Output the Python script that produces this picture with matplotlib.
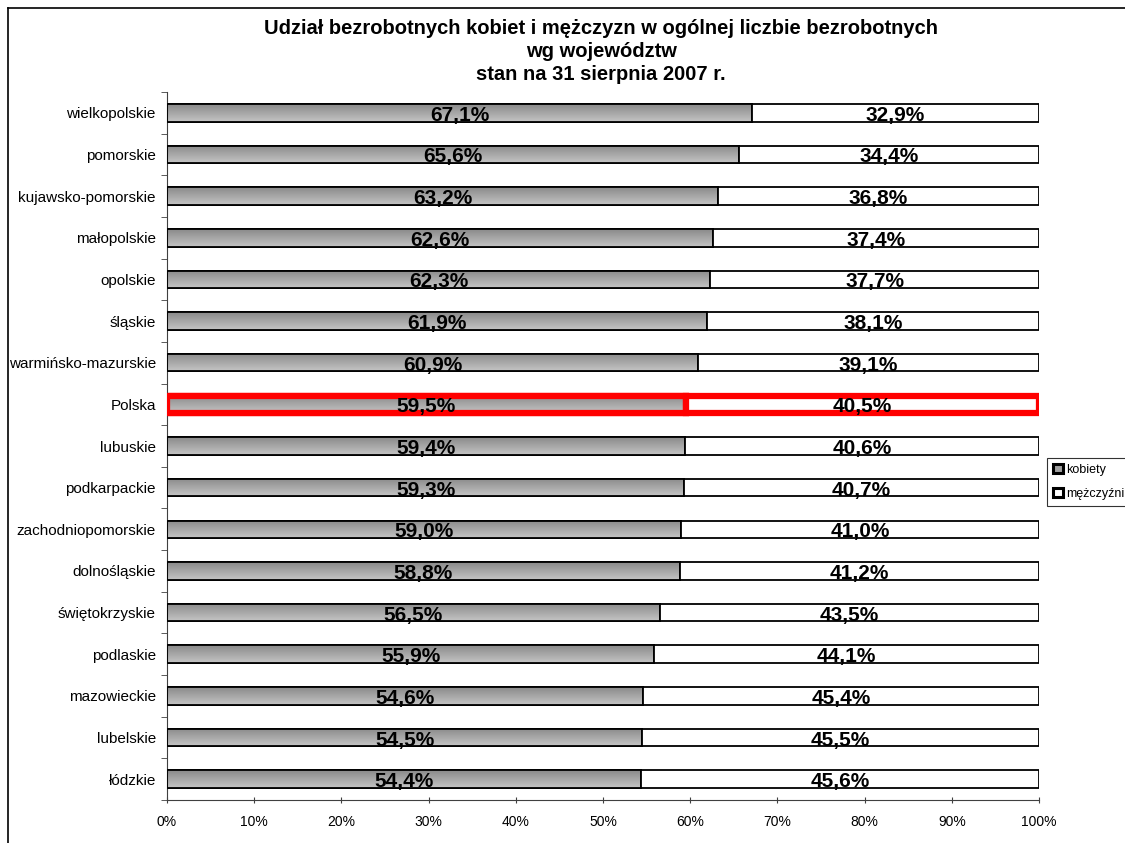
import numpy as np
import matplotlib
matplotlib.use("Agg")
import matplotlib.pyplot as plt
from matplotlib.patches import Rectangle, Patch
from matplotlib.lines import Line2D
from matplotlib.colors import LinearSegmentedColormap

plt.rcParams['font.family'] = ['Liberation Sans', 'DejaVu Sans']

regions = ["wielkopolskie", "pomorskie", "kujawsko-pomorskie", "małopolskie",
           "opolskie", "śląskie", "warmińsko-mazurskie", "Polska", "lubuskie",
           "podkarpackie", "zachodniopomorskie", "dolnośląskie", "świętokrzyskie",
           "podlaskie", "mazowieckie", "lubelskie", "łódzkie"]
kobiety = [67.1, 65.6, 63.2, 62.6, 62.3, 61.9, 60.9, 59.5, 59.4, 59.3, 59.0,
           58.8, 56.5, 55.9, 54.6, 54.5, 54.4]
mezczyzni = [32.9, 34.4, 36.8, 37.4, 37.7, 38.1, 39.1, 40.5, 40.6, 40.7, 41.0,
             41.2, 43.5, 44.1, 45.4, 45.5, 45.6]
xticks = [0, 10, 20, 30, 40, 50, 60, 70, 80, 90, 100]
title = ("Udział bezrobotnych kobiet i mężczyzn w ogólnej liczbie bezrobotnych\n"
         "wg województw\nstan na 31 sierpnia 2007 r.")

fig = plt.figure(figsize=(11.25, 8.43), dpi=100)
ax = fig.add_axes([167/1125, 1-800/843, (1039-167)/1125, (800-92)/843])

n = len(regions)
y = np.arange(n)[::-1]
h = 0.42

grad = np.linspace(0, 1, 64).reshape(-1, 1)
cmap = LinearSegmentedColormap.from_list("g", ["#c4c4c4", "#8a8a8a"])

for i in range(n):
    yi = y[i]
    special = regions[i] == "Polska"
    ec = "red" if special else "black"
    lw = 4.5 if special else 1.3
    bk = ax.barh(yi, kobiety[i], height=h, color="#a8a8a8", edgecolor=ec,
                 linewidth=lw, zorder=2)[0]
    im = ax.imshow(grad, extent=(0, kobiety[i], yi - h/2, yi + h/2), cmap=cmap,
                   aspect='auto', zorder=2.5, origin='lower')
    im.set_clip_path(bk)
    ax.add_patch(Rectangle((0, yi - h/2), kobiety[i], h, fill=False,
                           edgecolor=ec, linewidth=lw, zorder=3))
    ax.barh(yi, mezczyzni[i], left=kobiety[i], height=h, color="white",
            edgecolor=ec, linewidth=lw, zorder=3)
    ax.text(kobiety[i]/2, yi - 0.06, f"{kobiety[i]:.1f}%".replace('.', ','),
            ha='center', va='center', fontsize=15, fontweight='bold', zorder=5)
    ax.text(kobiety[i] + mezczyzni[i]/2, yi - 0.06,
            f"{mezczyzni[i]:.1f}%".replace('.', ','),
            ha='center', va='center', fontsize=15, fontweight='bold', zorder=5)

ax.set_xlim(0, 100)
ax.set_ylim(-0.5, n - 0.5)
ax.set_xticks(xticks)
ax.set_xticklabels([f"{v}%" for v in xticks], fontsize=10)
ax.set_yticks(y)
ax.set_yticklabels(regions, fontsize=11)
ax.set_yticks(np.arange(-0.5, n, 1), minor=True)
ax.tick_params(axis='y', which='major', length=0, pad=8)
ax.tick_params(axis='y', which='minor', length=4, direction='out', color='#404040')
ax.tick_params(axis='x', which='major', length=5, direction='inout', color='#404040', pad=8)
for s in ['top', 'right']:
    ax.spines[s].set_visible(False)
ax.spines['left'].set_color('#404040')
ax.spines['bottom'].set_color('#404040')

fig.text(601/1125, 1-19/843, title, ha='center', va='top', fontsize=14.5,
         fontweight='bold', linespacing=1.25)

# chart area border
fig.add_artist(Line2D([8/1125, 8/1125], [0, 1-8/843], color='black', lw=1.2,
                      transform=fig.transFigure))
fig.add_artist(Line2D([8/1125, 1], [1-8/843, 1-8/843], color='black', lw=1.2,
                      transform=fig.transFigure))

handles = [Patch(facecolor='#a0a0a0', edgecolor='black', linewidth=2.2),
           Patch(facecolor='white', edgecolor='black', linewidth=2.2)]
leg = fig.legend(handles, ["kobiety", "mężczyźni"], loc='upper left',
                 bbox_to_anchor=(1047/1125, 1-458/843), fontsize=9,
                 frameon=True, fancybox=False, handlelength=0.75, handleheight=0.75,
                 handletextpad=0.3, borderpad=0.5, labelspacing=0.95,
                 borderaxespad=0)
leg.get_frame().set_edgecolor('black')
leg.get_frame().set_linewidth(0.8)

fig.savefig("out.png", dpi=100)
